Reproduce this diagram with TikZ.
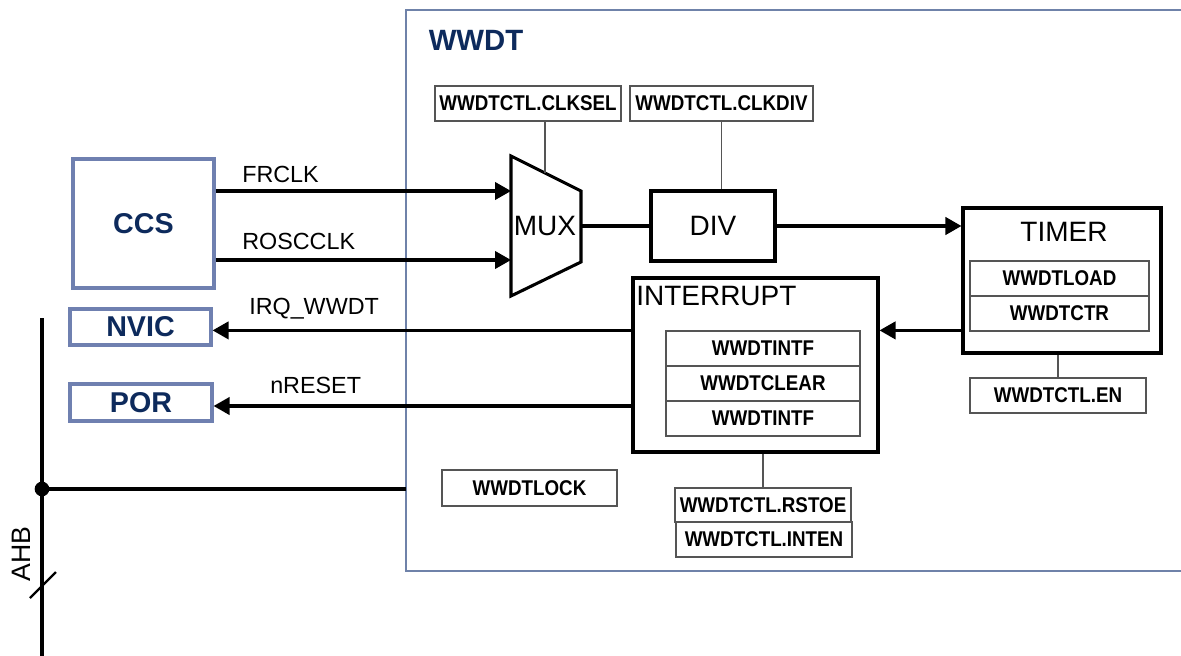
\documentclass[tikz,border=0pt]{standalone}
\usepackage{fontspec}
\setmainfont{Liberation Sans}
\newfontfamily\regfont{Liberation Sans Bold}[FakeStretch=0.88]
\usetikzlibrary{arrows.meta}
\definecolor{frameblue}{HTML}{6F82A9}
\definecolor{boxblue}{HTML}{6F80B0}
\definecolor{navy}{HTML}{0D2A5C}
\definecolor{thin}{HTML}{555555}
\tikzset{
  regbox/.style={draw=thin, line width=0.9pt, inner sep=0pt, font=\regfont\fontsize{16}{18}\selectfont, text=black},
  blockbox/.style={draw=black, line width=2.3pt, inner sep=0pt},
  extbox/.style={draw=boxblue, line width=2.4pt, inner sep=0pt, text=navy, font=\bfseries\fontsize{21.5}{24}\selectfont},
  biglabel/.style={font=\fontsize{21}{24}\selectfont, inner sep=0pt},
  siglabel/.style={font=\fontsize{17.5}{20}\selectfont, inner sep=0pt, anchor=west},
  sig/.style={line width=2.3pt, -{Triangle[length=12pt,width=13pt]}},
  wire/.style={line width=2.3pt},
  ctl/.style={draw=thin, line width=0.8pt},
}
\begin{document}
\begin{tikzpicture}[x=0.75pt, y=-0.75pt]
\useasboundingbox (0,0) rectangle (1181,656);
\begin{scope}
\clip (0,0) rectangle (1181,656);
% WWDT frame
\draw[frameblue, line width=1.9pt] (406,10) rectangle (1200,571);
\node[font=\bfseries\fontsize{22}{26}\selectfont, text=navy, inner sep=0pt] (wwdtlbl) at (476,40) {WWDT};

% control register boxes on top
\node[regbox, minimum width=139.5pt, minimum height=26.25pt] (clksel) at (528,103.5) {WWDTCTL.CLKSEL};
\node[regbox, minimum width=137.25pt, minimum height=26.25pt] (clkdiv) at (721.5,103.5) {WWDTCTL.CLKDIV};

% MUX
\draw[line width=2.3pt, line join=miter] (511,156) -- (581,191) -- (581,262) -- (511,296) -- cycle;
\node[biglabel] (mux) at (545,226) {MUX};
\coordinate (muxin1) at (511,191);
\coordinate (muxin2) at (511,260);
\coordinate (muxout) at (581,226);
\coordinate (muxtop) at (545,173);

% DIV
\node[blockbox, biglabel, minimum width=93pt, minimum height=52.5pt] (div) at (713,226) {DIV};

% TIMER
\node[blockbox, minimum width=148.5pt, minimum height=108.75pt] (timer) at (1062,280.5) {};
\node[biglabel] (timerlbl) at (1064,232) {TIMER};
\node[regbox, minimum width=134.25pt, minimum height=26.25pt] (load) at (1059.5,278.5) {WWDTLOAD};
\node[regbox, minimum width=134.25pt, minimum height=26.25pt] (ctr) at (1059.5,313.5) {WWDTCTR};
\node[regbox, minimum width=132pt, minimum height=26.25pt] (en) at (1058,395.5) {WWDTCTL.EN};

% INTERRUPT
\node[blockbox, minimum width=183.75pt, minimum height=130.5pt] (intr) at (755.5,365) {};
\node[biglabel, anchor=west] (intrlbl) at (636,296) {INTERRUPT};
\node[regbox, minimum width=145.5pt, minimum height=26.25pt] (intf1) at (763,348.5) {WWDTINTF};
\node[regbox, minimum width=145.5pt, minimum height=26.25pt] (clear) at (763,383.5) {WWDTCLEAR};
\node[regbox, minimum width=145.5pt, minimum height=26.25pt] (intf2) at (763,418.5) {WWDTINTF};

% bottom registers
\node[regbox, minimum width=131.25pt, minimum height=27pt] (lock) at (529.5,488) {WWDTLOCK};
\node[regbox, minimum width=132pt, minimum height=25.5pt] (rstoe) at (763,505) {WWDTCTL.RSTOE};
\node[regbox, minimum width=132pt, minimum height=26.25pt] (inten) at (764,539.5) {WWDTCTL.INTEN};

% external blocks
\node[extbox, minimum width=105.75pt, minimum height=96.75pt] (ccs) at (143.5,223.5) {CCS};
\node[extbox, minimum width=105.75pt, minimum height=27pt] (nvic) at (140.5,327) {NVIC};
\node[extbox, minimum width=106.5pt, minimum height=27.75pt] (por) at (141,402.5) {POR};

% signal labels
\node[siglabel] (frlbl) at (242,174) {FRCLK};
\node[siglabel] (roslbl) at (242,241) {ROSCCLK};
\node[siglabel] (irqlbl) at (249,309) {IRQ\_WWDT};
\node[siglabel] (rstlbl) at (270,385) {nRESET};

% signals
\draw[sig] (ccs.east |- muxin1) -- (muxin1);
\draw[sig] (ccs.east |- muxin2) -- (muxin2);
\draw[wire] (muxout) -- (div.west);
\draw[sig] (div.east) -- (div.east -| timer.west);
\draw[sig] (timer.west |- intf1.north) -- (intr.east |- intf1.north);
\draw[sig] (intr.west |- intf1.north) -- (nvic.east |- intf1.north);
\coordinate (rst) at (633,406);
\draw[sig] (intr.west |- rst) -- (por.east |- rst);

% control links
\draw[ctl] (clksel.south -| muxtop) -- (muxtop);
\draw[ctl] (clkdiv.south) -- (clkdiv.south |- div.north);
\draw[ctl] (en.north) -- (en.north |- timer.south);
\draw[ctl] (rstoe.north) -- (rstoe.north |- intr.south);

% AHB bus
\coordinate (bustop) at (42,318);
\coordinate (busbot) at (42,660);
\coordinate (busjoin) at (42,489);
\draw[line width=3.6pt] (bustop) -- (busbot);
\fill (busjoin) circle (5.5pt);
\draw[wire] (busjoin) -- (406,489);
\draw[line width=1.6pt] (30,598) -- (56,572);
\node[biglabel, rotate=90, font=\fontsize{20}{24}\selectfont] (ahb) at (21,554) {AHB};
\end{scope}
\end{tikzpicture}
\end{document}
